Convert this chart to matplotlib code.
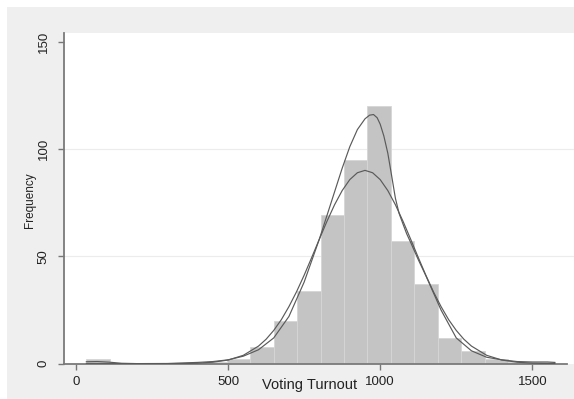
import matplotlib
matplotlib.use("Agg")
import matplotlib.pyplot as plt
from matplotlib.patches import Rectangle

# histogram of voting turnout (bin edges and frequencies)
bin_edges = [34, 111, 188, 265, 342, 419, 496, 573, 650, 727, 804,
             881, 958, 1035, 1112, 1189, 1266, 1343, 1420, 1497, 1574]
counts = [2, 0, 0, 0, 0, 1, 2, 8, 20, 34, 69, 95, 120, 57, 37, 12, 6, 2, 1, 1]

# normal density overlay (scaled to frequency)
normal_x = [34, 200, 300, 350, 400, 450, 500, 550, 600, 625, 650, 675, 700, 725,
            750, 775, 800, 825, 850, 875, 900, 925, 950, 975, 1000, 1025, 1050,
            1075, 1100, 1125, 1150, 1175, 1200, 1225, 1250, 1275, 1300, 1350,
            1400, 1450, 1500, 1550, 1574]
normal_y = [0.0, 0.0, 0.02, 0.08, 0.24, 0.7, 1.7, 3.9, 8.2, 11.4, 15.5, 20.5, 26.6,
            33.5, 41.2, 49.5, 58, 66.3, 74, 80.6, 85.7, 88.9, 90, 88.9, 85.7, 80.6,
            74, 66.3, 58, 49.5, 41.2, 33.5, 26.6, 20.5, 15.5, 11.4, 8.2, 3.9,
            1.7, 0.7, 0.24, 0.08, 0.05]

# kernel density overlay (scaled to frequency)
kernel_x = [34, 70, 110, 150, 200, 300, 400, 450, 500, 550, 600, 650, 700, 750,
            775, 800, 825, 850, 875, 900, 925, 950, 965, 978, 990, 1000, 1012,
            1025, 1037, 1050, 1062, 1075, 1087, 1100, 1125, 1150, 1175, 1200,
            1250, 1300, 1350, 1400, 1450, 1500, 1550, 1574]
kernel_y = [0.9, 1.0, 0.7, 0.2, 0.05, 0.1, 0.6, 1.0, 1.8, 3.5, 6.5, 12, 22, 38,
            48, 58, 69, 80, 91, 101, 109, 114, 115.7, 116, 114.5, 111.5, 106,
            98, 88, 77, 70, 65, 60.5, 56.5, 48.5, 41, 33, 25,
            12, 6, 3, 1.8, 1.0, 0.8, 0.8, 0.6]

yticks = [0, 50, 100, 150]
xticks = [0, 500, 1000, 1500]

plt.rcParams['font.family'] = ['Liberation Sans', 'DejaVu Sans']

W, H = 574, 399
fig = plt.figure(figsize=(W / 100, H / 100), dpi=100)
fig.patch.set_facecolor('white')
# light gray graph region, white strip at top and left
fig.patches.append(Rectangle((7 / W, 0), 1 - 7 / W, 1 - 7 / H, transform=fig.transFigure,
                             facecolor='#efefef', edgecolor='none', zorder=-10))

left, right, top, bottom = 63.7, 574, 32.5, 363.7
ax = fig.add_axes([left / W, 1 - bottom / H, (right - left) / W, (bottom - top) / H])
ax.set_facecolor('white')

widths = [bin_edges[i + 1] - bin_edges[i] for i in range(len(counts))]
ax.bar(bin_edges[:-1], counts, width=widths, align='edge', color='#c4c4c4',
       edgecolor='#d6d6d6', linewidth=0.6, zorder=2)
ax.plot(normal_x, normal_y, color='#5a5a5a', linewidth=0.85, zorder=3)
ax.plot(kernel_x, kernel_y, color='#5a5a5a', linewidth=0.85, zorder=3)

px_per_x = 152.1 / 500
ax.set_xlim(-(76 - left) / px_per_x, (right - 76) / px_per_x)
ax.set_ylim(0, 150 * (bottom - top) / (363.7 - 41.5))

for y in [50, 100]:
    ax.axhline(y, color='#ececec', linewidth=0.8, zorder=1)

ax.set_xticks(xticks)
ax.set_yticks(yticks)
ax.tick_params(axis='both', colors='#777777', length=4, width=1, labelcolor='#222222',
               labelsize=9.5)
ax.tick_params(axis='x', pad=5)
ax.tick_params(axis='y', pad=6)
for lbl in ax.get_yticklabels():
    lbl.set_rotation(90)
    lbl.set_va('center')

for s in ['top', 'right']:
    ax.spines[s].set_visible(False)
for s in ['left', 'bottom']:
    ax.spines[s].set_color('#7a7a7a')
    ax.spines[s].set_linewidth(1.3)
ax.spines['bottom'].set_bounds(ax.get_xlim()[0], (566.7 - 76) / px_per_x)

ax.set_xlabel('Voting Turnout', fontsize=10.5, color='#222222')
ax.xaxis.set_label_coords((310 - left) / (right - left), -(385 - bottom) / (bottom - top))
ax.xaxis.label.set_va('center')
ax.set_ylabel('Frequency', fontsize=8.5, color='#222222')
ax.yaxis.set_label_coords(-(left - 30) / (right - left), (bottom - 200) / (bottom - top))
ax.yaxis.label.set_va('center')

fig.savefig('out.png', dpi=100, facecolor=fig.get_facecolor())
